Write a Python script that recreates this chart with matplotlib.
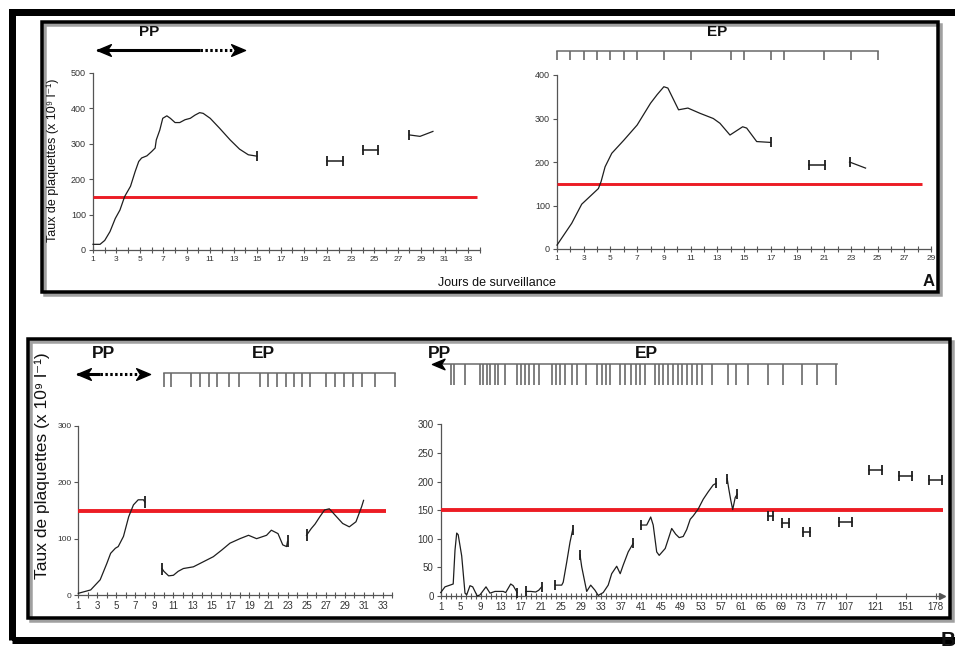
import matplotlib.pyplot as plt
import matplotlib.patches as patches
from matplotlib.path import Path

plt.rcParams['font.family'] = ['Liberation Sans', 'DejaVu Sans']

W, H = 955, 648
THRESHOLD = 150

# ---- panel A, left : plasmapheresis (PP) ----
a1_days = [1, 1.6, 2.0, 2.45, 2.9, 3.3, 3.7, 4.2, 4.6, 4.9, 5.15, 5.6, 6.0, 6.3, 6.4, 6.7,
           6.95, 7.3, 7.6, 8.0, 8.4, 8.85, 9.3, 9.7, 10.1, 10.4, 11.0, 11.8, 12.7, 13.5, 14.25, 15.0]
a1_vals = [16, 16, 27, 52, 89, 113, 151, 180, 222, 250, 260, 266, 278, 288, 311, 339,
           372, 379, 372, 360, 360, 368, 372, 381, 388, 386, 372, 344, 311, 285, 269, 265]
a1_gap_start = [21, 24]
a1_gap_end = [22.3, 25.3]
a1_gap_vals = [252, 282]
a1_tail_days = [28, 28.9, 30.0]
a1_tail_vals = [325, 321, 335]

# ---- panel A, right : plasma exchanges (EP) ----
a2_days = [1.0, 2.1, 2.85, 4.1, 4.3, 4.6, 5.1, 6.0, 7.0, 8.0, 8.5, 9.0, 9.3, 10.1, 10.8,
           11.7, 12.7, 13.2, 13.95, 14.9, 15.2, 15.95, 17.0]
a2_vals = [9, 59, 103, 139, 155, 189, 220, 250, 285, 335, 355, 373, 370, 320, 324,
           312, 300, 289, 262, 281, 278, 247, 245]
a2_ep_days = [1, 2, 3, 4, 5, 6, 7, 9, 11, 14, 15, 17, 18, 21, 23, 25]
a2_gap_start = [19.9]
a2_gap_end = [21.1]
a2_gap_vals = [192]
a2_tail_days = [22.9, 24.1]
a2_tail_vals = [200, 186]

# ---- panel B, left ----
b1_days_1 = [1, 2.3, 3.3, 4.0, 4.4, 4.9, 5.2, 5.75, 6.3, 6.8, 7.3, 7.85, 8.0]
b1_vals_1 = [3, 9, 27, 56, 74, 83, 86, 104, 139, 160, 169, 169, 165]
b1_days_2 = [9.8, 10.0, 10.5, 11.0, 11.5, 12.05, 13.1, 14.15, 15.2, 16.1, 16.95, 18.0,
             18.9, 19.75, 20.8, 21.3, 22.0, 22.5, 22.9, 23.0]
b1_vals_2 = [47, 42, 34, 35, 42, 47, 50, 59, 68, 80, 92, 100,
             106, 100, 106, 115, 109, 89, 86, 95]
b1_days_3 = [25.0, 25.5, 25.9, 26.4, 26.9, 27.4, 28.1, 28.8, 29.5, 30.2, 30.8, 31.0]
b1_vals_3 = [106, 118, 126, 139, 151, 153, 140, 127, 121, 130, 157, 168]
b1_ep_days = [10, 10.7, 12.9, 13.8, 14.7, 15.6, 16.9, 17.9, 20.1, 21.0, 21.9, 22.8,
              23.7, 24.5, 25.4, 27.1, 28.0, 28.9, 29.9, 30.8, 32.2, 34.3]

# ---- panel B, right ----
b2_days_1 = [1.0, 1.86, 2.86, 3.5, 3.86, 4.2, 4.5, 5.2, 5.86, 6.2, 6.86, 7.4, 8.3, 8.86,
             10.06, 10.86, 11.86, 13.5, 14.0, 15.0, 15.5, 16.3]
b2_vals_1 = [6, 16, 19, 21, 80, 110, 107, 70, 5, 2, 18, 16, 0, 2,
             16, 5, 8, 8, 6, 21, 18, 6]
b2_days_2 = [18.0, 19.0, 20.0, 20.6, 21.2]
b2_vals_2 = [8, 8, 7, 10, 16]
b2_days_3 = [23.9, 25.2, 25.5, 26.2, 26.86, 27.4]
b2_vals_3 = [19, 19, 24, 59, 94, 116]
b2_days_4 = [28.86, 29.2, 30.2, 31.0, 31.86, 32.5, 33.5, 34.5, 35.2, 36.2, 36.9, 37.5, 38.5, 39.5]
b2_vals_4 = [72, 51, 8, 19, 10, 1, 6, 19, 39, 52, 39, 54, 77, 92]
b2_days_5 = [41.0, 42.2, 43.0, 43.5, 44.2, 44.7, 45.9, 46.5, 47.2, 48.0, 48.7, 49.5, 50.2,
             50.9, 51.5, 52.5, 53.5, 54.5, 55.5, 56.1]
b2_vals_5 = [124, 124, 138, 124, 77, 71, 83, 99, 118, 108, 102, 104, 116,
             134, 140, 152, 169, 182, 194, 197]
b2_days_6 = [58.3, 58.6, 59.0, 59.4, 59.9, 60.3]
b2_vals_6 = [205, 188, 168, 151, 172, 178]
b2_gap_start = [66.5, 69.2, 73.4]
b2_gap_end = [67.5, 70.7, 74.9]
b2_gap_vals = [139, 128, 112]
late_days = [107, 121, 151, 178]
late_vals = [129, 221, 210, 203]
late_slots = [82, 88, 94, 100]   # where the compressed part of the axis puts them
b2_ep_days = [3.0, 3.7, 5.9, 8.9, 9.5, 10.2, 10.9, 11.9, 12.5, 13.9, 16.2, 17.0, 17.9, 18.7,
              19.7, 20.7, 23.2, 24.1, 24.9, 25.9, 27.2, 28.2, 30.0, 32.2, 33.2, 34.0, 34.9,
              36.9, 37.9, 39.1, 40.0, 40.9, 41.9, 43.9, 44.7, 45.5, 46.5, 47.5, 48.5, 49.2,
              50.2, 51.2, 52.2, 53.2, 55.2, 58.5, 60.1, 62.5, 66.5, 69.5, 73.2, 76.3, 80.1]

LINE = '#1e1e1e'
AXC = '#555555'
RED = '#ec1c24'

HEAD_R = Path([(0, 0), (-1, 0.42), (-0.72, 0), (-1, -0.42), (0, 0)],
              [Path.MOVETO, Path.LINETO, Path.LINETO, Path.LINETO, Path.CLOSEPOLY])
HEAD_L = Path([(0, 0), (1, 0.42), (0.72, 0), (1, -0.42), (0, 0)],
              [Path.MOVETO, Path.LINETO, Path.LINETO, Path.LINETO, Path.CLOSEPOLY])

fig = plt.figure(figsize=(W / 100, H / 100), dpi=100)


def px_box(x0, y0, x1, y1):
    return [x0 / W, 1 - y1 / H, (x1 - x0) / W, (y1 - y0) / H]


def frame(x0, y0, x1, y1, lw, shadow=0):
    if shadow:
        fig.add_artist(patches.Rectangle(((x0 + shadow) / W, 1 - (y1 + shadow) / H),
                                         (x1 - x0) / W, (y1 - y0) / H, transform=fig.transFigure,
                                         fill=False, ec='#a0a0a0', lw=lw * 0.72))
    fig.add_artist(patches.Rectangle((x0 / W, 1 - y1 / H), (x1 - x0) / W, (y1 - y0) / H,
                                     transform=fig.transFigure, fill=False, ec='black',
                                     lw=lw * 0.72, zorder=5))


def label(x, y, s, size, bold=False, rot=0):
    fig.text(x / W, 1 - y / H, s, fontsize=size, fontweight='bold' if bold else 'normal',
             rotation=rot, ha='center', va='center', color='#111', zorder=6)


def setup(ax, xmax, ymax, ystep, xlab, xsize, ysize):
    ax.set_xlim(1, xmax)
    ax.set_ylim(0, ymax)
    ax.patch.set_alpha(0)
    for s in ['top', 'right']:
        ax.spines[s].set_visible(False)
    for s in ['left', 'bottom']:
        ax.spines[s].set_color(AXC)
        ax.spines[s].set_linewidth(0.9)
    ax.set_yticks(range(0, ymax + 1, ystep))
    ax.tick_params(axis='y', direction='out', length=3, width=0.8, color=AXC,
                   labelsize=ysize, labelcolor='#333', pad=2)
    ax.tick_params(axis='x', which='both', direction='inout', length=5, width=0.8,
                   color=AXC, labelsize=xsize, labelcolor='#333', pad=2)
    ax.set_xticks(xlab)
    ax.set_xticks(range(1, int(xmax) + 1), minor=True)


def curve(ax, days, vals, bars=(), ms=7):
    ax.plot(days, vals, color=LINE, lw=0.9, clip_on=False, zorder=4)
    for i in bars:
        ax.plot([days[i]], [vals[i]], marker='|', ms=ms, mew=1.3, color=LINE, clip_on=False, zorder=4)


def gaps(ax, starts, ends, vals, ms=7):
    for s, e, v in zip(starts, ends, vals):
        ax.plot([s, e], [v, v], color=LINE, lw=1.1, marker='|', ms=ms, mew=1.3,
                clip_on=False, zorder=4)


def threshold(ax, xend, lw):
    ax.plot([1, xend], [THRESHOLD, THRESHOLD], color=RED, lw=lw, clip_on=False, zorder=3,
            solid_capstyle='butt')


def ep_row(ax, days, y_line, y_tick, x_start=None, x_end=None):
    tr = ax.get_xaxis_transform()
    x_start = days[0] if x_start is None else x_start
    x_end = days[-1] if x_end is None else x_end
    ax.plot([x_start, x_end], [y_line, y_line], transform=tr, clip_on=False, color='#6a6a6a', lw=1.1)
    ax.vlines(days, y_tick, y_line, transform=tr, clip_on=False, colors='#6a6a6a', lw=1.2)


def pp_arrow(ax, y, x0, x_solid, x_dot, x1, ms):
    tr = ax.get_xaxis_transform()
    ax.plot([x0, x_solid], [y, y], color='black', lw=2.2, transform=tr, clip_on=False,
            solid_capstyle='butt')
    ax.plot([x_solid, x_dot], [y, y], color='black', lw=2.2, ls=(0, (0.8, 0.8)),
            transform=tr, clip_on=False)
    ax.plot([x0], [y], marker=HEAD_L, ms=ms, color='black', transform=tr, clip_on=False)
    ax.plot([x1], [y], marker=HEAD_R, ms=ms, color='black', transform=tr, clip_on=False)


# ---------------- frames ----------------
frame(11.5, 11.5, 980, 640, 7)
frame(42, 22, 938, 292, 3.5, shadow=3)
frame(27.5, 338.5, 950, 617.5, 3.5, shadow=3)

# ---------------- panel A left ----------------
ax1 = fig.add_axes(px_box(93, 73, 479.8, 250))
setup(ax1, 34, 500, 100, range(1, 34, 2), 6, 6.5)
threshold(ax1, 33.8, 2.1)
curve(ax1, a1_days, a1_vals, bars=[-1])
gaps(ax1, a1_gap_start, a1_gap_end, a1_gap_vals)
curve(ax1, a1_tail_days, a1_tail_vals, bars=[0])
pp_arrow(ax1, 1.13, 1.3, 10.1, 13.2, 14.0, 20)

# ---------------- panel A right ----------------
ax2 = fig.add_axes(px_box(557, 75, 931, 249))
setup(ax2, 29, 400, 100, range(1, 30, 2), 6, 6.5)
threshold(ax2, 28.3, 2.1)
curve(ax2, a2_days, a2_vals, bars=[-1])
gaps(ax2, a2_gap_start, a2_gap_end, a2_gap_vals)
curve(ax2, a2_tail_days, a2_tail_vals, bars=[0])
ep_row(ax2, a2_ep_days, 1.138, 1.086)

label(149, 32, 'PP', 11, bold=True)
label(717, 32, 'EP', 11, bold=True)
label(497, 283, 'Jours de surveillance', 9)
label(929, 281, 'A', 12, bold=True)
label(53, 160, 'Taux de plaquettes (x 10⁹ l⁻¹)', 9, rot=90)

# ---------------- panel B left ----------------
ax3 = fig.add_axes(px_box(78.3, 426, 392.1, 595))
setup(ax3, 34, 300, 100, range(1, 34, 2), 7, 6)
threshold(ax3, 33.4, 2.8)
curve(ax3, b1_days_1, b1_vals_1, bars=[-1], ms=8)
curve(ax3, b1_days_2, b1_vals_2, bars=[0, -1], ms=8)
curve(ax3, b1_days_3, b1_vals_3, bars=[0], ms=8)
ep_row(ax3, b1_ep_days, 1.312, 1.231)
pp_arrow(ax3, 1.308, 0.86, 3.3, 7.4, 8.55, 20)

# ---------------- panel B right ----------------
ax4 = fig.add_axes(px_box(440.7, 424.3, 943.2, 596))
setup(ax4, 101.5, 300, 50, list(range(1, 78, 4)) + late_slots, 7, 7)
ax4.set_xticks(range(1, 81), minor=True)
ax4.set_xticklabels([str(d) for d in range(1, 78, 4)] + [str(d) for d in late_days])
threshold(ax4, 101.4, 2.8)
for d, v, bars in [(b2_days_1, b2_vals_1, [-1]), (b2_days_2, b2_vals_2, [0, -1]),
                   (b2_days_3, b2_vals_3, [0, -1]), (b2_days_4, b2_vals_4, [0, -1]),
                   (b2_days_5, b2_vals_5, [0, -1]), (b2_days_6, b2_vals_6, [0, -1])]:
    curve(ax4, d, v, bars=bars, ms=7)
gaps(ax4, b2_gap_start, b2_gap_end, b2_gap_vals, ms=7)
gaps(ax4, [s - 1.3 for s in late_slots], [s + 1.3 for s in late_slots], late_vals, ms=7)
ax4.plot([101.3], [0], marker='>', ms=4, color=AXC, clip_on=False)
ep_row(ax4, b2_ep_days, 1.351, 1.229, x_start=0.5, x_end=80.3)
ax4.plot([-0.8], [1.351], marker=HEAD_L, ms=18, color='black',
         transform=ax4.get_xaxis_transform(), clip_on=False)

label(103, 354, 'PP', 12.5, bold=True)
label(263, 353, 'EP', 12.5, bold=True)
label(439, 354, 'PP', 12.5, bold=True)
label(646, 354, 'EP', 12.5, bold=True)
label(42, 466, 'Taux de plaquettes (x 10⁹ l⁻¹)', 12.5, rot=90)
label(948, 640, 'B', 15, bold=True)

fig.savefig('out.png', dpi=100)
